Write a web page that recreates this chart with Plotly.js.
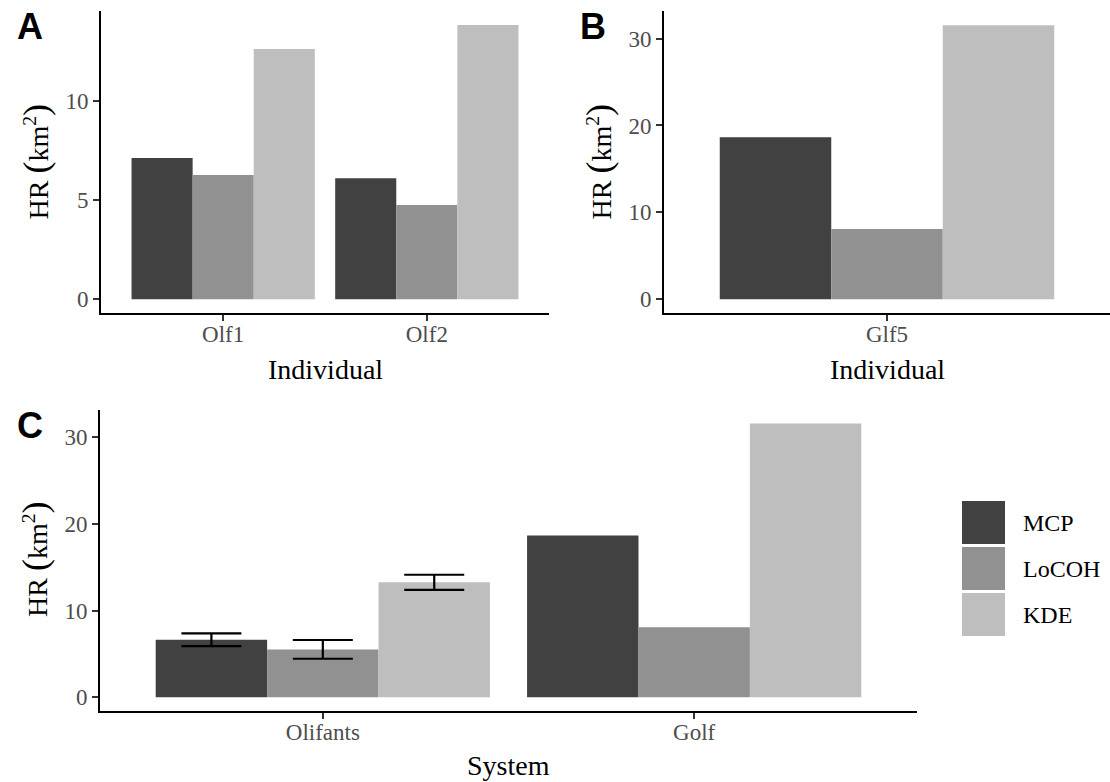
<!DOCTYPE html>
<html>
<head>
<meta charset="utf-8">
<script src="https://cdn.plot.ly/plotly-3.0.1.min.js"></script>
<style>html,body{margin:0;padding:0;background:#fff;}#chart{width:1110px;height:782px;}</style>
</head>
<body>
<div id="chart"></div>
<script>
// ---- data ----
const methods = ["MCP", "LoCOH", "KDE"];
const methodColors = ["#414141", "#919191", "#bebebe"];

// Panel A: Olifants individuals
const individualsA = ["Olf1", "Olf2"];
const mcpA = [7.14, 6.12];
const locohA = [6.28, 4.76];
const kdeA = [12.64, 13.85];

// Panel B: Golf individual
const individualsB = ["Glf5"];
const mcpB = [18.65];
const locohB = [8.08];
const kdeB = [31.55];

// Panel C: systems (mean, sd)
const systemsC = ["Olifants", "Golf"];
const mcpC = [6.63, 18.65];
const locohC = [5.52, 8.08];
const kdeC = [13.25, 31.55];
const mcpSdC = [0.73, null];
const locohSdC = [1.08, null];
const kdeSdC = [0.87, null];

const yTicksA = [0, 5, 10];
const yTicksBC = [0, 10, 20, 30];

// ---- helpers ----
const W = 1110, H = 782;
const px = v => v / W;
const py = v => 1 - v / H;
const serif = "Liberation Serif, Times New Roman, serif";
const toErr = a => a.map(v => (v === null ? NaN : v));

const traces = [];
function addPanel(cats, series, xa, ya, sds) {
  series.forEach((vals, i) => {
    const t = {
      type: "bar", x: cats, y: vals, name: methods[i],
      marker: { color: methodColors[i], line: { width: 0 } },
      xaxis: xa, yaxis: ya, showlegend: false, hoverinfo: "x+y+name"
    };
    if (sds) {
      t.error_y = { type: "data", array: toErr(sds[i]), visible: true,
        color: "#000000", thickness: 2.2, width: 30 };
    }
    traces.push(t);
  });
}
addPanel(individualsA, [mcpA, locohA, kdeA], "x", "y");
addPanel(individualsB, [mcpB, locohB, kdeB], "x2", "y2");
addPanel(systemsC, [mcpC, locohC, kdeC], "x3", "y3", [mcpSdC, locohSdC, kdeSdC]);

const tickFont = { family: serif, size: 23, color: "#4d4d4d" };
function xAxis(domain, range, anchor) {
  return { domain: domain, range: range, type: "category", anchor: anchor,
    showline: true, linecolor: "#000", linewidth: 2, ticks: "outside",
    ticklen: 6, tickwidth: 2, tickcolor: "#333", tickfont: tickFont,
    ticklabelstandoff: -7,
    showgrid: false, zeroline: false, fixedrange: true };
}
function yAxis(domain, range, anchor, tv) {
  return { domain: domain, range: range, anchor: anchor, tickvals: tv,
    showline: true, linecolor: "#000", linewidth: 2, ticks: "outside",
    ticklen: 6, tickwidth: 2, tickcolor: "#333", tickfont: tickFont,
    showgrid: false, zeroline: false, fixedrange: true };
}

const annotations = [];
function ann(text, x, y, size, extra) {
  annotations.push(Object.assign({ text: text, x: x, y: y, xref: "paper", yref: "paper",
    showarrow: false, xanchor: "center", yanchor: "middle",
    font: { family: serif, size: size, color: "#000" } }, extra || {}));
}
const paren = c => "<span style='font-size:36px'>" + c + "</span>";
const ytitle = "HR " + paren("(") + "km<sup>2</sup>" + paren(")");
ann(ytitle, px(35), py(162.5), 28, { textangle: -90 });
ann(ytitle, px(598), py(162.5), 28, { textangle: -90 });
ann(ytitle, px(35), py(560), 28, { textangle: -90 });
ann("Individual", px(325), py(369), 28);
ann("Individual", px(887), py(369), 28);
ann("System", px(508), py(765), 28);
const letterFont = { family: "Liberation Sans, Arial, sans-serif", size: 36, color: "#000", weight: "bold" };
ann("<b>A</b>", px(30), py(27), 36, { font: letterFont });
ann("<b>B</b>", px(593), py(26), 36, { font: letterFont });
ann("<b>C</b>", px(30), py(425), 36, { font: letterFont });

// legend (drawn manually for large keys)
const shapes = [];
const keyTop = [501, 547, 593];
methods.forEach((m, i) => {
  shapes.push({ type: "rect", xref: "paper", yref: "paper",
    x0: px(962), x1: px(1005), y0: py(keyTop[i] + 43), y1: py(keyTop[i]),
    fillcolor: methodColors[i], line: { width: 0 } });
  ann(m, px(1021), py(keyTop[i] + 21.5), 24, { xanchor: "left" });
});

const layout = {
  width: W, height: H,
  margin: { l: 0, r: 0, t: 0, b: 0 },
  paper_bgcolor: "#fff", plot_bgcolor: "#fff",
  barmode: "group", bargap: 0.1, bargroupgap: 0,
  showlegend: false,
  xaxis: xAxis([px(101), px(549)], [-0.6, 1.6], "y"),
  yaxis: yAxis([py(313), py(11.4)], [-0.69, 14.54], "x", yTicksA),
  xaxis2: xAxis([px(664), 1], [-0.6, 0.6], "y2"),
  yaxis2: yAxis([py(313), py(11.4)], [-1.58, 33.13], "x2", yTicksBC),
  xaxis3: xAxis([px(100), px(917)], [-0.6, 1.6], "y3"),
  yaxis3: yAxis([py(711), py(409.8)], [-1.58, 33.13], "x3", yTicksBC),
  annotations: annotations,
  shapes: shapes
};

Plotly.newPlot("chart", traces, layout, { displayModeBar: false, staticPlot: true });
</script>
</body>
</html>
